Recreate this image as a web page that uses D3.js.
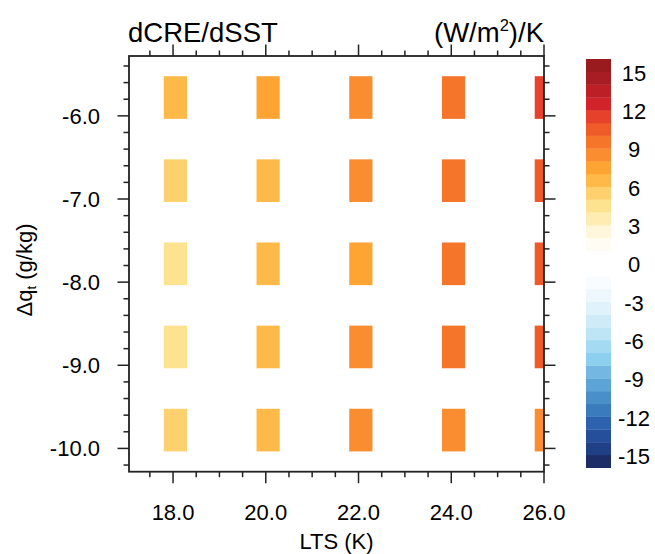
<!DOCTYPE html>
<html><head><meta charset="utf-8">
<script src="https://cdn.jsdelivr.net/npm/d3@7"></script>
<style>
html,body{margin:0;padding:0;background:#fff;}
text{font-family:"Liberation Sans",Arial,Helvetica,sans-serif;fill:#000;}
</style></head>
<body>
<svg id="chart" width="655" height="554"></svg>
<script>
// ---- data ----
const ltsValues = [18, 20, 22, 24, 26];
const dqtValues = [-6, -7, -8, -9, -10];
// dCRE/dSST values [row by dqt][col by lts], (W/m2)/K
const rowM6  = [6.5, 7.5, 8.5, 9.5, 11.5];
const rowM7  = [5.5, 6.5, 8.5, 9.5, 10.5];
const rowM8  = [4.5, 6.5, 7.5, 9.5, 10.5];
const rowM9  = [4.5, 6.5, 8.5, 9.5, 10.5];
const rowM10 = [5.5, 6.5, 8.5, 8.5, 8.5];
const xTickLabels = ["18.0", "20.0", "22.0", "24.0", "26.0"];
const yTickLabels = ["-6.0", "-7.0", "-8.0", "-9.0", "-10.0"];
const levels = d3.range(-15, 16, 1);
const levelColors = [
  "#1c2d66","#1f3f86","#254f9b","#2c62ae","#3a7bbc","#4990c8","#5ca3d6","#73b7e2",
  "#8ccfee","#a5daf3","#bde5f6","#cfebf8","#e0f2fa","#eef7fc","#f9fcfe","#ffffff",
  "#ffffff","#fffcf3","#fff6db","#feedb3","#fde28f","#fed16e","#feba48","#fda433",
  "#f98d2f","#f5752b","#ef5a29","#e5412b","#d3232a","#bd1f26","#a81c23","#9a1b1e"
];
const cbLabels = [15, 12, 9, 6, 3, 0, -3, -6, -9, -12, -15];

const grid = [rowM6, rowM7, rowM8, rowM9, rowM10];
const cells = [];
grid.forEach((row, i) => row.forEach((v, j) => cells.push({lts: ltsValues[j], dqt: dqtValues[i], v})));

// ---- layout ----
const svg = d3.select("#chart");
const L = 129, R = 544, T = 56, B = 471.7;
const x = d3.scaleLinear().domain([17.05, 26]).range([L, R]);
const y = d3.scaleLinear().domain([-10.28, -5.28]).range([B, T]);
const color = d3.scaleThreshold().domain(levels).range(levelColors);

svg.append("clipPath").attr("id", "clip").append("rect")
  .attr("x", L).attr("y", T).attr("width", R - L).attr("height", B - T);

svg.append("g").attr("clip-path", "url(#clip)")
  .selectAll("rect").data(cells).join("rect")
  .attr("x", d => x(d.lts - 0.2))
  .attr("width", d => x(d.lts + 0.3) - x(d.lts - 0.2))
  .attr("y", d => y(d.dqt + 0.477))
  .attr("height", d => y(d.dqt - 0.036) - y(d.dqt + 0.477))
  .attr("fill", d => color(d.v));

// ---- axes ----
const tickCol = "#222";
const xMajor = ltsValues;
const xMinor = d3.range(17.5, 26.01, 0.5).filter(v => Math.abs(v - Math.round(v / 2) * 2) > 1e-6);
const yMajor = dqtValues;
const yMinor = d3.range(-10.2, -5.29, 0.2).map(v => +v.toFixed(1)).filter(v => Math.abs(v - Math.round(v)) > 1e-6);
const MJ = 11.5, MN = 5.5;
const ax = svg.append("g").attr("stroke", tickCol).attr("stroke-width", 1.5);
function xt(vals, len) {
  vals.forEach(v => {
    ax.append("line").attr("x1", x(v)).attr("x2", x(v)).attr("y1", B).attr("y2", B + len);
    ax.append("line").attr("x1", x(v)).attr("x2", x(v)).attr("y1", T).attr("y2", T - len);
  });
}
function yt(vals, len) {
  vals.forEach(v => {
    ax.append("line").attr("y1", y(v)).attr("y2", y(v)).attr("x1", L).attr("x2", L - len);
    ax.append("line").attr("y1", y(v)).attr("y2", y(v)).attr("x1", R).attr("x2", R + len);
  });
}
xt(xMajor, MJ); xt(xMinor, MN); yt(yMajor, MJ); yt(yMinor, MN);
svg.append("rect").attr("x", L).attr("y", T).attr("width", R - L).attr("height", B - T)
  .attr("fill", "none").attr("stroke", tickCol).attr("stroke-width", 1.8);

// tick labels
svg.append("g").selectAll("text").data(xMajor).join("text")
  .attr("x", d => x(d)).attr("y", 520).attr("text-anchor", "middle")
  .attr("font-size", 22).text((d, i) => xTickLabels[i]);
svg.append("g").selectAll("text").data(yMajor).join("text")
  .attr("x", 100).attr("y", d => y(d) + 8).attr("text-anchor", "end")
  .attr("font-size", 22).text((d, i) => yTickLabels[i]);

// axis titles
svg.append("text").attr("x", (L + R) / 2).attr("y", 549).attr("text-anchor", "middle")
  .attr("font-size", 22).text("LTS (K)");
const yl = svg.append("text").attr("transform", "translate(32,270) rotate(-90)")
  .attr("text-anchor", "middle").attr("font-size", 22);
yl.append("tspan").text("Δq");
yl.append("tspan").attr("font-size", 13).attr("dy", 4).text("t");
yl.append("tspan").attr("dy", -4).text(" (g/kg)");

// title
svg.append("text").attr("x", 128).attr("y", 42).attr("font-size", 27.5).text("dCRE/dSST");
const un = svg.append("text").attr("x", 544).attr("y", 42).attr("text-anchor", "end").attr("font-size", 27.5);
un.append("tspan").text("(W/m");
un.append("tspan").attr("font-size", 16.5).attr("dy", -11).text("2");
un.append("tspan").attr("dy", 11).text(")/K");

// ---- colorbar ----
const cbX = 586, cbW = 25;
const yc = d3.scaleLinear().domain([16, -16]).range([59, 467.7]);
const boxes = d3.range(-16, 16).map((lo, i) => ({lo, hi: lo + 1, c: levelColors[i]}));
svg.append("g").selectAll("rect").data(boxes).join("rect")
  .attr("x", cbX).attr("width", cbW)
  .attr("y", d => yc(d.hi)).attr("height", d => yc(d.lo) - yc(d.hi) + 0.3)
  .attr("fill", d => d.c);
svg.append("g").selectAll("text").data(cbLabels).join("text")
  .attr("x", 634).attr("y", d => yc(d) + 9).attr("text-anchor", "middle")
  .attr("font-size", 22).text(d => d);
</script>
</body></html>
